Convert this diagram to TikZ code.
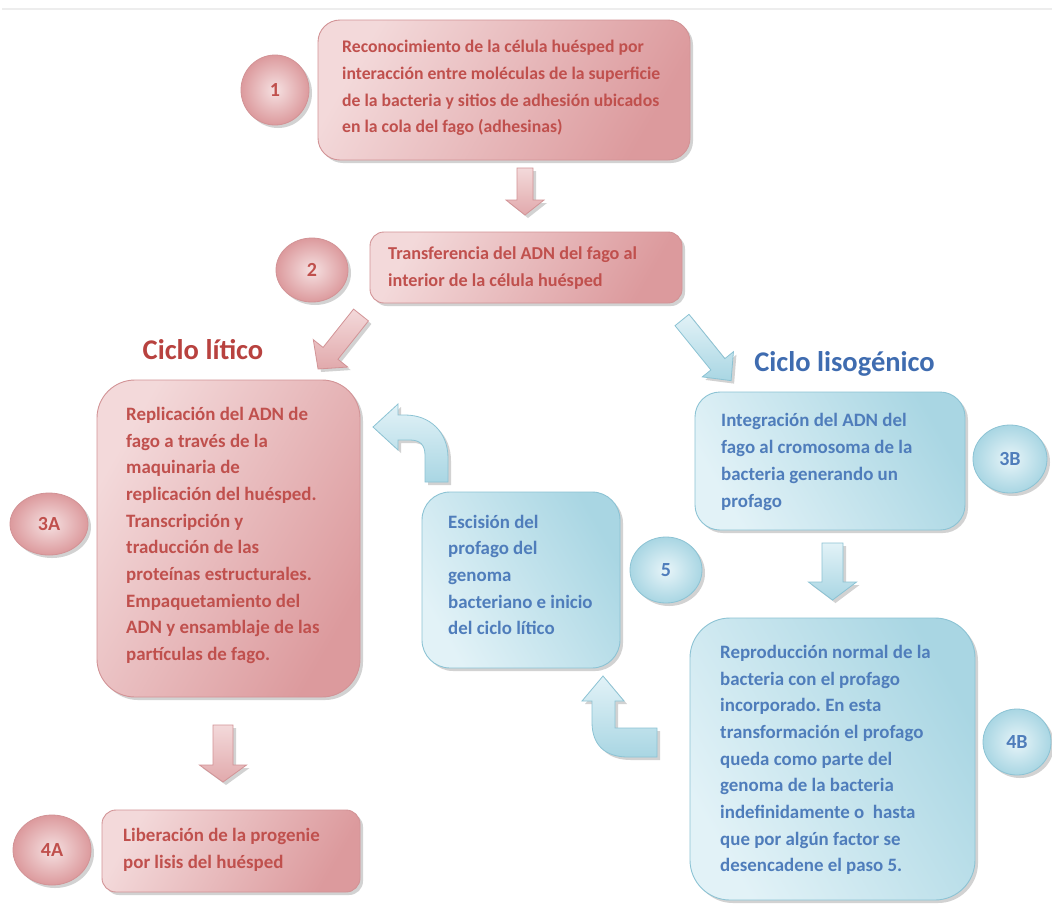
\documentclass[tikz,border=0pt]{standalone}
\usepackage{fontspec}
\setmainfont{Carlito}
\usetikzlibrary{shapes.geometric,shadows}
\frenchspacing
\definecolor{redtxt}{HTML}{C0504D}
\definecolor{redhd}{HTML}{B8423F}
\definecolor{bluetxt}{HTML}{4F7DBB}
\definecolor{bluehd}{HTML}{3F6CB0}
\definecolor{pinkedge}{HTML}{D29396}
\definecolor{pinkA}{HTML}{F3D9DA}
\definecolor{pinkB}{HTML}{DC9A9D}
\definecolor{blueedge}{HTML}{8CC3D4}
\definecolor{blueA}{HTML}{E2F2F7}
\definecolor{blueB}{HTML}{A9D6E3}
\tikzset{
  shad/.style={drop shadow={shadow xshift=3pt,shadow yshift=-3pt,opacity=0.25,fill=black!70}},
  pinkbox/.style={draw=pinkedge, line width=0.9pt, shad, left color=pinkA, right color=pinkB, shading angle=60, inner sep=0pt},
  bluebox/.style={draw=blueedge, line width=0.9pt, shad, left color=blueB, right color=blueA, shading angle=-60, inner sep=0pt},
  pinkdot/.style={ellipse, draw=pinkedge, line width=0.8pt, shad, inner color=pinkA!80!white, outer color=pinkB, text=redtxt, font=\fontsize{20}{22}\selectfont\bfseries, inner sep=0pt},
  bluedot/.style={ellipse, draw=blueedge, line width=0.8pt, shad, inner color=blueA!80!white, outer color=blueB, text=bluetxt, font=\fontsize{20}{22}\selectfont\bfseries, inner sep=0pt},
  redtext/.style={text=redtxt, font=\fontsize{18.9}{26.7}\selectfont\bfseries, align=left, inner sep=0pt, anchor=west},
  bluetext/.style={text=bluetxt, font=\fontsize{18.9}{26.7}\selectfont\bfseries, align=left, inner sep=0pt, anchor=west},
  pinkarrow/.style={draw=pinkedge, line width=0.8pt, shad, left color=pinkA, right color=pinkB!85!white, shading angle=0},
  bluearrow/.style={draw=blueedge, line width=0.8pt, shad, left color=blueA, right color=blueB, shading angle=0},
}
\begin{document}
\begin{tikzpicture}[x=1pt,y=-1pt]
\useasboundingbox (0,0) rectangle (1052,903);
\fill[white] (0,0) rectangle (1052,903);
\draw[line width=1.2pt, black!7] (2,9) -- (1052,9);

% boxes
\node[pinkbox, rounded corners=22pt, minimum width=372pt, minimum height=140pt] (b1) at (504,90) {};
\node[pinkbox, rounded corners=14pt, minimum width=312pt, minimum height=71pt] (b2) at (526,267.5) {};
\node[pinkbox, rounded corners=38pt, minimum width=263pt, minimum height=317pt] (b3a) at (228.5,538.5) {};
\node[pinkbox, rounded corners=14pt, minimum width=258pt, minimum height=82pt] (b4a) at (231,851) {};
\node[bluebox, rounded corners=28pt, minimum width=198pt, minimum height=176pt] (b5) at (521,580) {};
\node[bluebox, rounded corners=25pt, minimum width=270pt, minimum height=138pt] (b3b) at (830,461) {};
\node[bluebox, rounded corners=40pt, minimum width=285pt, minimum height=282pt] (b4b) at (832.5,759) {};

% texts
\node[redtext, font=\fontsize{17.7}{26.7}\selectfont\bfseries] (t1) at (342,88) {Reconocimiento de la célula huésped por\\interacción entre moléculas de la superficie\\de la bacteria y sitios de adhesión ubicados\\en la cola del fago (adhesinas)};
\node[redtext, font=\fontsize{18.2}{26.7}\selectfont\bfseries] (t2) at (388,268) {Transferencia del ADN del fago al\\interior de la célula huésped};
\node[redtext] (t3a) at (126,535.5) {Replicación del ADN de\\fago a través de la\\maquinaria de\\replicación del huésped.\\Transcripción y\\traducción de las\\proteínas estructurales.\\Empaquetamiento del\\ADN y ensamblaje de las\\partículas de fago.};
\node[redtext] (t4a) at (123,849.5) {Liberación de la progenie\\por lisis del huésped};
\node[bluetext] (t5) at (448,575) {Escisión del\\profago del\\genoma\\bacteriano e inicio\\del ciclo lítico};
\node[bluetext] (t3b) at (721,462) {Integración del ADN del\\fago al cromosoma de la\\bacteria generando un\\profago};
\node[bluetext] (t4b) at (720,760) {Reproducción normal de la\\bacteria con el profago\\incorporado. En esta\\transformación el profago\\queda como parte del\\genoma de la bacteria\\indefinidamente o\ \ hasta\\que por algún factor se\\desencadene el paso 5.};

% circles
\node[pinkdot, minimum width=68pt, minimum height=70pt] (c1) at (275,90) {1};
\node[pinkdot, minimum width=72pt, minimum height=64pt] (c2) at (312,270) {2};
\node[pinkdot, minimum width=78pt, minimum height=62pt] (c3a) at (49,524) {3A};
\node[pinkdot, minimum width=78pt, minimum height=70pt] (c4a) at (52,850) {4A};
\node[bluedot, minimum width=72pt, minimum height=66pt] (c5) at (666,570) {5};
\node[bluedot, minimum width=74pt, minimum height=68pt] (c3b) at (1010,459) {3B};
\node[bluedot, minimum width=68pt, minimum height=66pt] (c4b) at (1017,742) {4B};

% headings
\node[text=redhd, font=\fontsize{28.5}{32}\selectfont\bfseries, inner sep=0pt] (hl) at (203,350) {Ciclo lítico};
\node[text=bluehd, font=\fontsize{28.5}{32}\selectfont\bfseries, inner sep=0pt] (hs) at (844.5,364) {Ciclo lisogénico};

% straight block arrows
\coordinate (a12) at (525,168);
\coordinate (a3a) at (223,725);
\coordinate (a3b) at (832.5,543);
\coordinate (alyt) at (361,315);
\coordinate (alys) at (682,320);
\begin{scope}[shift={(a12)}, rotate=-90]
  \path[pinkarrow] (0,-8) -- (32,-8) -- (32,-19) -- (47,0) -- (32,19) -- (32,8) -- (0,8) -- cycle;
\end{scope}
\begin{scope}[shift={(a3a)}, rotate=-90]
  \path[pinkarrow] (0,-10) -- (40,-10) -- (40,-23.5) -- (57,0) -- (40,23.5) -- (40,10) -- (0,10) -- cycle;
\end{scope}
\begin{scope}[shift={(a3b)}, rotate=-90]
  \path[bluearrow] (0,-10.5) -- (39,-10.5) -- (39,-24) -- (57,0) -- (39,24) -- (39,10.5) -- (0,10.5) -- cycle;
\end{scope}
\begin{scope}[shift={(alyt)}, rotate=-128.5]
  \path[pinkarrow] (0,-9.5) -- (49,-9.5) -- (49,-22) -- (69,0) -- (49,22) -- (49,9.5) -- (0,9.5) -- cycle;
\end{scope}
\begin{scope}[shift={(alys)}, rotate=-51]
  \path[bluearrow] (0,-9) -- (57,-9) -- (57,-20) -- (78,0) -- (57,20) -- (57,9) -- (0,9) -- cycle;
\end{scope}

% bent arrows
\path[bluearrow] (425,482) -- (425,455) .. controls (425,445) and (420,440) .. (410,440) -- (398,440) -- (398,450) -- (373,427) -- (398,404) -- (398,415) -- (405,415) .. controls (430,415) and (448,432) .. (448,458) -- (448,482) -- cycle;
\path[bluearrow] (657,728) -- (615,728) -- (615,701) -- (624,701) -- (603,676) -- (582,701) -- (592,701) -- (592,722) .. controls (592,745) and (605,757) .. (628,757) -- (657,757) -- cycle;
\end{tikzpicture}
\end{document}
